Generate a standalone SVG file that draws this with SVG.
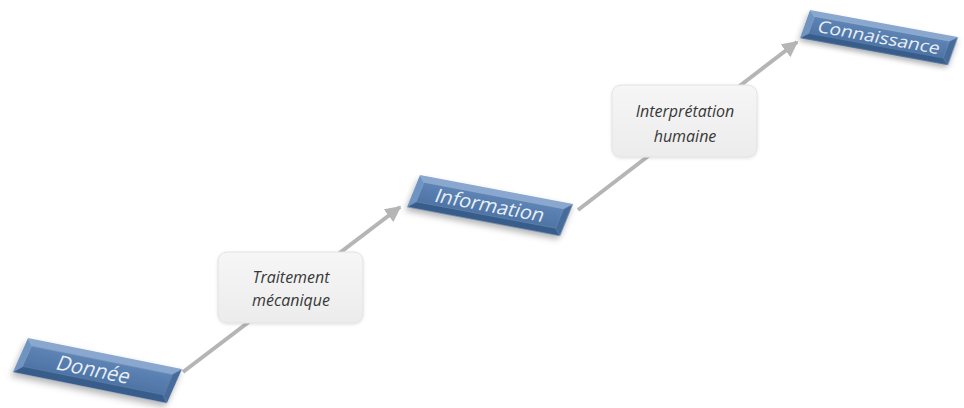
<svg xmlns="http://www.w3.org/2000/svg" width="964" height="408" viewBox="0 0 964 408">
  <defs>
    <style>
      .face { fill: url(#faceGrad); }
      .bev-top { fill: #8aa8cf; }
      .bev-left { fill: #7094c2; }
      .bev-bottom { fill: #395d8b; }
      .bev-right { fill: #466c9c; }
      .stage-text { font-family: "Open Sans", "Noto Sans", sans-serif; font-size: 20.5px; fill: #e9eff7; text-anchor: middle; }
      .note-box { fill: url(#noteGrad); stroke: #e2e2e2; stroke-width: 1; }
      .note-text { font-family: "Open Sans", "Noto Sans", sans-serif; font-style: italic; font-size: 16px; fill: #383838; text-anchor: middle; }
      .link { stroke: #b5b5b5; stroke-width: 4; fill: none; marker-end: url(#arrow); }
    </style>
    <linearGradient id="faceGrad" x1="0" y1="0" x2="0" y2="1">
      <stop offset="0" stop-color="#5d84b5"/>
      <stop offset="1" stop-color="#4d74a4"/>
    </linearGradient>
    <linearGradient id="noteGrad" x1="0" y1="0" x2="0" y2="1">
      <stop offset="0" stop-color="#f6f6f6"/>
      <stop offset="1" stop-color="#ececec"/>
    </linearGradient>
    <filter id="shadow" x="-20%" y="-40%" width="140%" height="200%">
      <feDropShadow dx="0" dy="4" stdDeviation="3.5" flood-color="#000" flood-opacity="0.3"/>
    </filter>
    <filter id="softShadow" x="-10%" y="-10%" width="120%" height="130%">
      <feDropShadow dx="0" dy="1" stdDeviation="1.5" flood-color="#000" flood-opacity="0.12"/>
    </filter>
    <marker id="arrow" viewBox="0 0 10 10" refX="9" refY="5" markerWidth="4" markerHeight="4" orient="auto">
      <path d="M0,0 L10,5 L0,10 z" fill="#b5b5b5"/>
    </marker>
    <!-- bevelled stage plate, drawn in a 160x36 local frame -->
    <g id="plate">
      <polygon class="bev-top" points="0,0 160,0 153,7 7,7"/>
      <polygon class="bev-left" points="0,0 7,7 7,29 0,36"/>
      <polygon class="bev-bottom" points="0,36 7,29 153,29 160,36"/>
      <polygon class="bev-right" points="160,0 160,36 153,29 153,7"/>
      <rect class="face" x="7" y="7" width="146" height="22"/>
    </g>
  </defs>

  <rect width="964" height="408" fill="#ffffff"/>

  <!-- connectors -->
  <g id="connectors">
    <line class="link" x1="183" y1="372" x2="400" y2="207"/>
    <line class="link" x1="578" y1="210" x2="797" y2="42"/>
  </g>

  <!-- stage plates -->
  <g id="donnee" transform="matrix(0.9625 0.194 -0.417 0.944 28 338)">
    <use href="#plate" filter="url(#shadow)"/>
    <text class="stage-text" x="76" y="25">Donnée</text>
  </g>

  <g id="information" transform="matrix(0.956 0.181 -0.361 0.889 420 175)">
    <use href="#plate" filter="url(#shadow)"/>
    <text class="stage-text" x="80" y="25">Information</text>
  </g>

  <g id="connaissance" transform="matrix(0.925 0.169 -0.278 0.778 810 10)">
    <use href="#plate" filter="url(#shadow)"/>
    <text class="stage-text" x="80" y="25">Connaissance</text>
  </g>

  <!-- transition notes -->
  <g id="traitement">
    <rect class="note-box" x="218" y="252" width="145" height="71" rx="9" filter="url(#softShadow)"/>
    <text class="note-text" x="291" y="283">Traitement</text>
    <text class="note-text" x="291" y="306">mécanique</text>
  </g>

  <g id="interpretation">
    <rect class="note-box" x="612" y="85" width="145" height="72" rx="9" filter="url(#softShadow)"/>
    <text class="note-text" x="685" y="117">Interprétation</text>
    <text class="note-text" x="685" y="142">humaine</text>
  </g>
</svg>
